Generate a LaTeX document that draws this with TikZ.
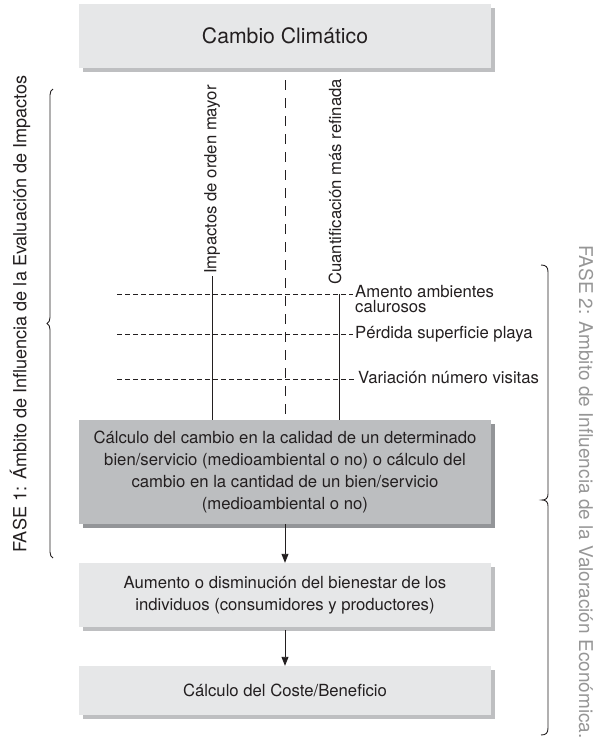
\documentclass[tikz,border=0pt]{standalone}
\usepackage{fontspec}
\setmainfont{TeX Gyre Heros}
\usetikzlibrary{shadows, decorations.pathreplacing, arrows.meta}

\definecolor{cajaclara}{RGB}{230,231,232}
\definecolor{cajaoscura}{RGB}{188,190,192}
\definecolor{sombraclara}{RGB}{190,191,193}
\definecolor{sombraoscura}{RGB}{147,149,152}
\definecolor{texto}{RGB}{35,31,32}
\definecolor{fasegris}{RGB}{150,150,150}

\begin{document}
\begin{tikzpicture}[x=1pt, y=-1pt,
    caja/.style={fill=cajaclara, minimum width=412pt, inner sep=0pt, align=center,
        text=texto, font=\fontsize{16.7}{22}\selectfont,
        general shadow={fill=sombraclara, shadow xshift=4pt, shadow yshift=-4pt}},
    cajaosc/.style={caja, fill=cajaoscura,
        general shadow={fill=sombraoscura, shadow xshift=4pt, shadow yshift=-4pt}},
    etiq/.style={text=texto, font=\fontsize{16.7}{18}\selectfont, inner sep=2pt},
    guia/.style={texto, line width=0.6pt, dash pattern=on 5pt off 3pt},
    flecha/.style={texto, line width=0.9pt, -{Triangle[length=9pt, width=7pt]}}]

        % Fix the size of the page
        \useasboundingbox (0,0) rectangle (594,745);

        % Draw the boxes
        \node[caja, minimum height=64pt, font=\fontsize{21.2}{24}\selectfont] (clima) at (285,36) {Cambio Climático};
        \node[cajaosc, minimum height=104pt] (calculo) at (285,472)
            {Cálculo del cambio en la calidad de un determinado\\
             bien/servicio (medioambiental o no) o cálculo del\\
             cambio en la cantidad de un bien/servicio\\
             (medioambiental o no)};
        \node[caja, minimum height=64pt] (bienestar) at (285,595)
            {Aumento o disminución del bienestar de los\\
             individuos (consumidores y productores)};
        \node[caja, minimum height=49pt] (coste) at (285,690.5) {Cálculo del Coste/Beneficio};

        % Vertical labels
        \node[etiq, rotate=90, anchor=west] (mayor) at (212,276) {Impactos de orden mayor};
        \node[etiq, rotate=90, anchor=west] (refinada) at (335,287) {Cuantificación más refinada};

        % Impact labels
        \node[etiq, anchor=north west, align=left, font=\fontsize{16.7}{15.5}\selectfont] (calor) at (353,283) {Amento ambientes\\calurosos};
        \node[etiq, anchor=west] (playa) at (353,334) {Pérdida superficie playa};
        \node[etiq, anchor=west] (visitas) at (356,378) {Variación número visitas};

        % Leader lines
        \coordinate (h1) at (117,294);
        \coordinate (h2) at (117,334);
        \coordinate (h3) at (117,379);
        \draw[guia] (h1) -- (h1 -| calor.west);
        \draw[guia] (h2) -- (playa.west);
        \draw[guia] (h3) -- (h3 -| visitas.west);

        % Vertical lines down to the box
        \draw[texto, line width=0.9pt] (mayor.west) -- (mayor.west |- calculo.north);
        \draw[texto, line width=0.9pt] (h1 -| 339,0) -- (calculo.north -| 339,0);
        \draw[texto, line width=0.8pt, dash pattern=on 10pt off 8pt] ([yshift=-12pt]clima.south) -- (calculo.north);

        % Arrows between the boxes
        \draw[flecha] (calculo.south) -- (bienestar.north);
        \draw[flecha] ([yshift=-3pt]bienestar.south) -- (coste.north);

        % Braces for the two phases
        \draw[texto, line width=0.9pt, decorate, decoration={brace, amplitude=6pt}] (53,558) -- (53,89);
        \draw[texto, line width=0.9pt] (541,265) .. controls (546,265) and (548,267) .. (548,272)
            -- (548,494) .. controls (548,498) and (546,500) .. (542,500)
            .. controls (546,500) and (548,502) .. (548,506)
            -- (548,728) .. controls (548,733) and (546,735) .. (541,735);

        % Phase titles
        \node[rotate=90, text=texto, font=\fontsize{18.1}{20}\selectfont] (fase1) at (20,314)
            {FASE 1: Ámbito de Influencia de la Evaluación de Impactos};
        \node[rotate=-90, text=fasegris, font=\fontsize{19}{22}\selectfont, inner sep=0pt] (fase2) at (586,492)
            {FASE 2: Ambito de Influencia de la Valoración Económica.};
    \end{tikzpicture}
\end{document}
